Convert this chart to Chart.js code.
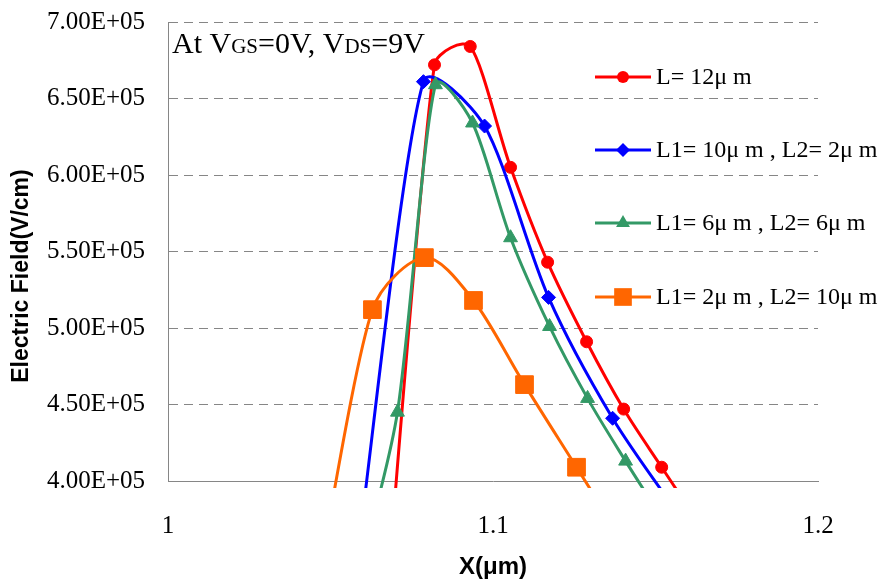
<!DOCTYPE html>
<html>
<head>
<meta charset="utf-8">
<script src="https://cdn.jsdelivr.net/npm/chart.js@4.4.1/dist/chart.umd.min.js"></script>
<style>
  body { margin: 0; background: #fff; }
  #box { width: 887px; height: 583px; }
</style>
</head>
<body>
<div id="box"><canvas id="field"></canvas></div>
<script>
// series (x in um, field in V/cm); first/last points sit below the axis
var seriesLabels = ['L= 12\u03bc m', 'L1= 10\u03bc m , L2= 2\u03bc m', 'L1= 6\u03bc m , L2= 6\u03bc m', 'L1= 2\u03bc m , L2= 10\u03bc m'];
var xL12 = [1.066, 1.082, 1.093, 1.1054, 1.1168, 1.1288, 1.1402, 1.1519, 1.1635];
var eL12 = [2.90e5, 6.72e5, 6.84e5, 6.05e5, 5.43e5, 4.91e5, 4.47e5, 4.09e5, 3.72e5];
var x10_2 = [1.059, 1.0786, 1.0974, 1.1171, 1.1368, 1.1565];
var e10_2 = [3.64e5, 6.61e5, 6.32e5, 5.20e5, 4.41e5, 3.80e5];
var x6_6 = [1.0594, 1.0706, 1.0823, 1.0937, 1.1054, 1.1174, 1.1291, 1.1408, 1.1525];
var e6_6 = [3.45e5, 4.45e5, 6.59e5, 6.34e5, 5.59e5, 5.01e5, 4.54e5, 4.13e5, 3.74e5];
var x2_10 = [1.047, 1.0629, 1.0789, 1.094, 1.1097, 1.1257, 1.1417];
var e2_10 = [3.45e5, 5.12e5, 5.46e5, 5.18e5, 4.63e5, 4.09e5, 3.55e5];
var yTicksMin = 4.0e5, yTicksMax = 7.0e5, yStep = 0.5e5;
var xMin = 1, xMax = 1.2, xStep = 0.1;

var colors = ['#ff0000', '#0000ff', '#339966', '#ff6600'];
var styles = ['circle', 'rectRot', 'triangle', 'rect'];
var radii = [6, 7, 8, 12.5];

function toPoints(xs, ys) {
  return xs.map(function (x, i) { return { x: x, y: ys[i] }; });
}
var allX = [xL12, x10_2, x6_6, x2_10];
var allY = [eL12, e10_2, e6_6, e2_10];

var datasets = allX.map(function (xs, i) {
  return {
    label: seriesLabels[i],
    data: toPoints(xs, allY[i]),
    borderColor: colors[i],
    backgroundColor: colors[i],
    borderWidth: 3,
    pointStyle: styles[i],
    pointRadius: radii[i],
    pointBorderWidth: 1,
    pointBorderColor: colors[i],
    pointBackgroundColor: colors[i],
    tension: 0.4,
    order: 4 - i,
    clip: { left: 0, top: 0, right: 0, bottom: 7 }
  };
});

// Excel-like smoothing: neighbour span / 6, shortened on the short side
var excelSmooth = {
  id: 'excelSmooth',
  beforeDatasetDraw: function (chart, args) {
    var line = args.meta.dataset;
    var pts = args.meta.data;
    if (!line || !pts.length) return;
    for (var i = 0; i < pts.length; i++) {
      var p = pts[i];
      var prev = pts[Math.max(i - 1, 0)];
      var next = pts[Math.min(i + 1, pts.length - 1)];
      var d01 = Math.hypot(p.x - prev.x, p.y - prev.y);
      var d12 = Math.hypot(next.x - p.x, next.y - p.y);
      var sum = d01 + d12 || 1;
      var a1 = Math.min(1 / 6, d01 / sum / 3);
      var a2 = Math.min(1 / 6, d12 / sum / 3);
      var dx = next.x - prev.x, dy = next.y - prev.y;
      p.cp1x = p.x - dx * a1; p.cp1y = p.y - dy * a1;
      p.cp2x = p.x + dx * a2; p.cp2y = p.y + dy * a2;
    }
    line._pointsUpdated = true;
  }
};

function marker(ctx, style, r, x, y, color) {
  ctx.fillStyle = color;
  ctx.beginPath();
  if (style === 'circle') {
    ctx.arc(x, y, r, 0, Math.PI * 2);
  } else if (style === 'rectRot') {
    ctx.moveTo(x, y - r); ctx.lineTo(x + r, y); ctx.lineTo(x, y + r); ctx.lineTo(x - r, y);
  } else if (style === 'triangle') {
    ctx.moveTo(x, y - r); ctx.lineTo(x + r * 0.866, y + r * 0.5); ctx.lineTo(x - r * 0.866, y + r * 0.5);
  } else {
    var s = r * Math.SQRT1_2;
    ctx.rect(x - s, y - s, 2 * s, 2 * s);
  }
  ctx.closePath();
  ctx.fill();
}

var legendRows = [77, 150, 223, 297];

var extras = {
  id: 'extras',
  afterDatasetsDraw: function (chart) {
    var ctx = chart.ctx;
    ctx.save();
    // y axis title
    ctx.translate(22, 276);
    ctx.rotate(-Math.PI / 2);
    ctx.font = 'bold 23px "Liberation Sans", Arial, sans-serif';
    ctx.fillStyle = '#000';
    ctx.textAlign = 'center';
    ctx.textBaseline = 'middle';
    ctx.fillText('Electric Field(V/cm)', 0, 0);
    ctx.restore();

    // condition note
    ctx.save();
    ctx.fillStyle = '#000';
    ctx.textBaseline = 'alphabetic';
    var parts = [['At V', 30], ['GS', 21], ['=0V, V', 30], ['DS', 21], ['=9V', 30]];
    var px = 172;
    parts.forEach(function (p) {
      ctx.font = p[1] + 'px "Liberation Serif", "Times New Roman", serif';
      ctx.fillText(p[0], px, 53);
      px += ctx.measureText(p[0]).width;
    });
    ctx.restore();

    // legend
    ctx.save();
    chart.data.datasets.forEach(function (ds, i) {
      var y = legendRows[i];
      ctx.strokeStyle = ds.borderColor;
      ctx.lineWidth = 3;
      ctx.beginPath();
      ctx.moveTo(595, y);
      ctx.lineTo(651, y);
      ctx.stroke();
      marker(ctx, ds.pointStyle, ds.pointRadius, 623, y, ds.borderColor);
      ctx.fillStyle = '#000';
      ctx.font = '24px "Liberation Serif", "Times New Roman", serif';
      ctx.textBaseline = 'middle';
      ctx.fillText(ds.label, 656, y + 1);
    });
    ctx.restore();
  }
};

new Chart(document.getElementById('field'), {
  type: 'line',
  data: { datasets: datasets },
  plugins: [excelSmooth, extras],
  options: {
    responsive: true,
    maintainAspectRatio: false,
    animation: false,
    layout: { padding: { top: 22, right: 69, left: 0, bottom: 0 } },
    plugins: { legend: { display: false }, tooltip: { enabled: false } },
    scales: {
      x: {
        type: 'linear',
        min: xMin,
        max: xMax,
        afterFit: function (scale) { scale.height = 102; },
        grid: { display: false, drawTicks: false },
        border: { display: true, color: '#868686', width: 1 },
        ticks: {
          stepSize: xStep,
          padding: 30,
          color: '#000',
          font: { family: '"Liberation Serif", "Times New Roman", serif', size: 25 },
          callback: function (v) { return String(Math.round(v * 10) / 10); }
        },
        title: {
          display: true,
          text: 'X(\u03bcm)',
          color: '#000',
          padding: { top: 0, bottom: 1 },
          font: { family: '"Liberation Sans", Arial, sans-serif', size: 24, weight: 'bold' }
        }
      },
      y: {
        min: yTicksMin,
        max: yTicksMax,
        afterFit: function (scale) {
          scale.width = 168;
          scale.paddingTop = 0;
          scale.paddingBottom = 0;
        },
        grid: { color: '#868686', lineWidth: 1, drawTicks: false },
        border: { display: true, color: '#868686', width: 1, dash: [9, 6] },
        ticks: {
          stepSize: yStep,
          padding: 23,
          color: '#000',
          font: { family: '"Liberation Serif", "Times New Roman", serif', size: 25 },
          callback: function (v) { return (v / 1e5).toFixed(2) + 'E+05'; }
        }
      }
    }
  }
});
</script>
</body>
</html>
